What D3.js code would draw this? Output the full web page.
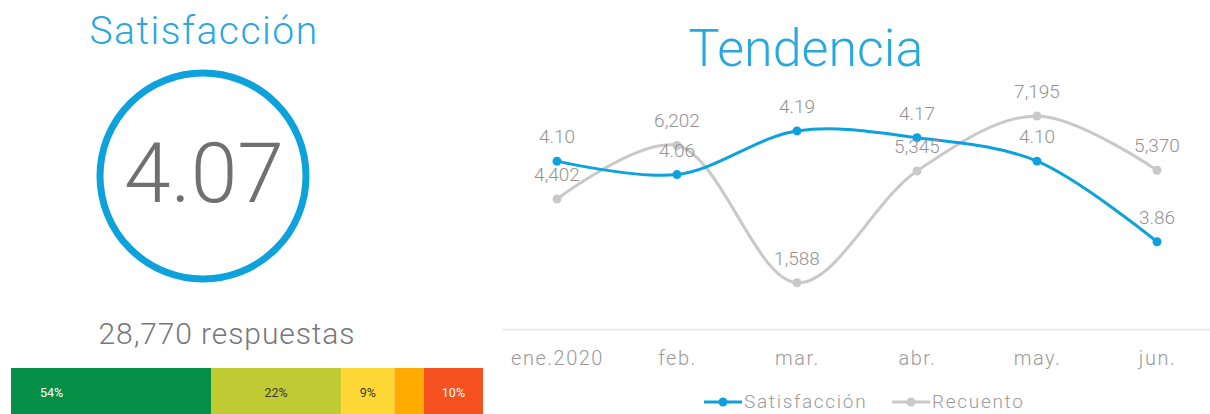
<!DOCTYPE html>
<html><head><meta charset="utf-8">
<script src="https://cdn.jsdelivr.net/npm/d3@7"></script>
<style>
html,body{margin:0;padding:0;background:#fff;}
svg{display:block;font-family:Roboto,"Noto Sans",sans-serif;}
</style></head>
<body>
<svg id="chart" width="1210" height="414"></svg>
<script>
// ---- data ----
const kpiTitle = "Satisfacción";
const kpiValue = "4.07";
const kpiCount = "28,770 respuestas";
const distShares = [54, 22, 9, 5, 10];
const distLabels = ["54%", "22%", "9%", "", "10%"];
const distColors = ["#068f46", "#c0ca33", "#fdd835", "#ffab00", "#f4511e"];
const distTextColors = ["#ffffff", "#3a3a3a", "#3a3a3a", "#3a3a3a", "#ffffff"];

const trendTitle = "Tendencia";
const months = ["ene.2020", "feb.", "mar.", "abr.", "may.", "jun."];
const satisfaccion = [4.10, 4.06, 4.19, 4.17, 4.10, 3.86];
const recuento = [4402, 6202, 1588, 5345, 7195, 5370];
const seriesNames = ["Satisfacción", "Recuento"];

const blue = "#0ea2dd", gray = "#c9c9c9", textGray = "#939393";
const svg = d3.select("#chart");

// ---- left panel ----
svg.append("text").attr("x", 204).attr("y", 44).attr("text-anchor", "middle")
  .attr("font-size", 39).attr("font-weight", 300).attr("letter-spacing", 1.5)
  .attr("fill", "#29a8e0").text(kpiTitle);
svg.append("circle").attr("cx", 203).attr("cy", 176).attr("r", 103)
  .attr("fill", "none").attr("stroke", blue).attr("stroke-width", 7);
svg.append("text").attr("x", 204).attr("y", 202).attr("text-anchor", "middle")
  .attr("font-size", 84).attr("font-weight", 300).attr("fill", "#707070").text(kpiValue);
svg.append("text").attr("x", 227).attr("y", 344).attr("text-anchor", "middle")
  .attr("font-size", 30).attr("font-weight", 300).attr("letter-spacing", 0.9)
  .attr("fill", "#777777").text(kpiCount);

// stacked distribution bar
const defs = svg.append("defs");
defs.append("clipPath").attr("id", "barclip").append("rect")
  .attr("x", 11).attr("y", 360).attr("width", 472).attr("height", 60);
const xb = d3.scaleLinear().domain([0, d3.sum(distShares)]).range([-108, 483]);
let acc = 0;
const segs = distShares.map((v, i) => { const s = {i, v, x0: acc, x1: acc + v}; acc += v; return s; });
const bar = svg.append("g").attr("clip-path", "url(#barclip)");
bar.selectAll("rect").data(segs).join("rect")
  .attr("x", d => xb(d.x0)).attr("width", d => xb(d.x1) - xb(d.x0))
  .attr("y", 368).attr("height", 50).attr("fill", d => distColors[d.i]);
bar.selectAll("text").data(segs).join("text")
  .attr("x", d => (xb(d.x0) + xb(d.x1)) / 2).attr("y", 397)
  .attr("text-anchor", "middle").attr("font-size", 12.5)
  .attr("fill", d => distTextColors[d.i]).text(d => distLabels[d.i]);

// ---- right panel ----
svg.append("text").attr("x", 806).attr("y", 66).attr("text-anchor", "middle")
  .attr("font-size", 52).attr("font-weight", 300).attr("fill", "#29a8e0").text(trendTitle);

const x = d3.scalePoint().domain(months).range([557, 1157]);
const yS = d3.scaleLinear().domain([3.6, 4.3]).range([329, 94]);
const yR = d3.scaleLinear().domain([0, 8000]).range([330, 92]);

// axis baseline
svg.append("line").attr("x1", 503).attr("x2", 1210).attr("y1", 329.5).attr("y2", 329.5)
  .attr("stroke", "#e6e6e6").attr("stroke-width", 1.5);
const xAxis = svg.append("g").attr("transform", "translate(0,329)")
  .call(d3.axisBottom(x).tickSize(0).tickPadding(22));
xAxis.select(".domain").remove();
xAxis.selectAll("text").attr("font-size", 20).attr("font-family", "Roboto")
  .attr("font-weight", 300).attr("letter-spacing", 1.5).attr("fill", "#9a9a9a");

const curve = d3.curveCatmullRom.alpha(0.5);
const lineR = d3.line().x((d, i) => x(months[i])).y(d => yR(d)).curve(curve);
const lineS = d3.line().x((d, i) => x(months[i])).y(d => yS(d)).curve(curve);

svg.append("path").attr("d", lineR(recuento)).attr("fill", "none")
  .attr("stroke", gray).attr("stroke-width", 3);
svg.selectAll(".pr").data(recuento).join("circle").attr("class", "pr")
  .attr("cx", (d, i) => x(months[i])).attr("cy", d => yR(d)).attr("r", 4.5).attr("fill", gray);

svg.append("path").attr("d", lineS(satisfaccion)).attr("fill", "none")
  .attr("stroke", blue).attr("stroke-width", 3);
svg.selectAll(".ps").data(satisfaccion).join("circle").attr("class", "ps")
  .attr("cx", (d, i) => x(months[i])).attr("cy", d => yS(d)).attr("r", 4.5).attr("fill", blue);

// data labels
const fmtR = d3.format(",");
const fmtS = d3.format(".2f");
svg.selectAll(".lr").data(recuento).join("text").attr("class", "lr")
  .attr("x", (d, i) => x(months[i])).attr("y", d => yR(d) - 18)
  .attr("text-anchor", "middle").attr("font-size", 19).attr("font-weight", 300)
  .attr("fill", textGray).text(d => fmtR(d));
svg.selectAll(".ls").data(satisfaccion).join("text").attr("class", "ls")
  .attr("x", (d, i) => x(months[i])).attr("y", d => yS(d) - 18)
  .attr("text-anchor", "middle").attr("font-size", 19).attr("font-weight", 300)
  .attr("fill", textGray).text(d => fmtS(d));

// legend
const legend = [{name: seriesNames[0], color: blue, x: 704}, {name: seriesNames[1], color: gray, x: 892}];
const lg = svg.selectAll(".lg").data(legend).join("g").attr("class", "lg")
  .attr("transform", d => `translate(${d.x},402)`);
lg.append("line").attr("x1", 0).attr("x2", 38).attr("stroke", d => d.color).attr("stroke-width", 3);
lg.append("circle").attr("cx", 19).attr("r", 4.5).attr("fill", d => d.color);
lg.append("text").attr("x", 40).attr("y", 6).attr("font-size", 19).attr("font-weight", 300)
  .attr("letter-spacing", 1.7).attr("fill", "#9a9a9a").text(d => d.name);
</script>
</body></html>
